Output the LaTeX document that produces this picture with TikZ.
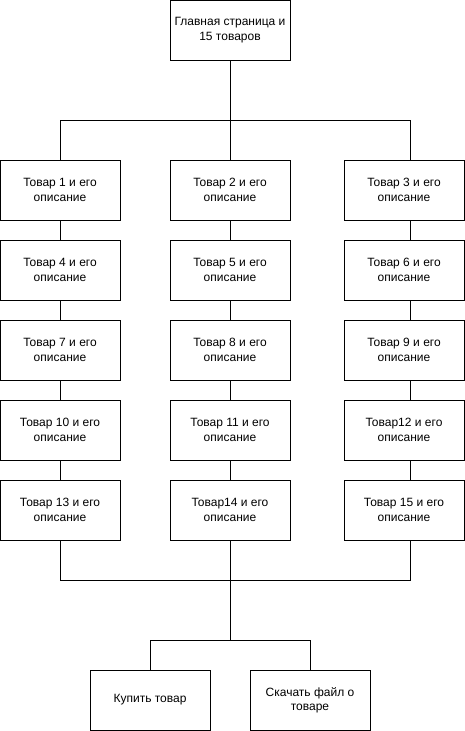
\documentclass[tikz,border=0pt]{standalone}
\usepackage{fontspec}
\setmainfont{Liberation Sans}
\usepackage{tikz}
\tikzset{x=1pt, y=-1pt}
\tikzset{page/.style = {shape=rectangle, draw, line width=1pt, minimum width=120pt, minimum height=60pt, align=center, font=\fontsize{12}{14.4}\selectfont, inner sep=0pt}}
\tikzset{edge/.style = {line width=1pt}}

\begin{document}
\begin{tikzpicture}
        \useasboundingbox (0,0) rectangle (465,731);
        \node[page] (main) at (230,30) {Главная страница и\\15 товаров};
        \coordinate (split) at (230,120);
        \draw[edge] (main) to (split);
        % first row
        \node[page] (t1) at (60,190) {Товар 1 и его\\описание};
        \node[page] (t2) at (230,190) {Товар 2 и его\\описание};
        \node[page] (t3) at (404,190) {Товар 3 и его\\описание};
        \draw[edge] (split) -| (t1);
        \draw[edge] (split) to (t2);
        \draw[edge] (split) -| ([xshift=6pt]t3.north);
        % second row
        \node[page] (t4) at (60,270) {Товар 4 и его\\описание};
        \draw[edge] (t1) to (t4);
        \node[page] (t5) at (230,270) {Товар 5 и его\\описание};
        \draw[edge] (t2) to (t5);
        \node[page] (t6) at (404,270) {Товар 6 и его\\описание};
        \draw[edge] ([xshift=6pt]t3.south) to ([xshift=6pt]t6.north);
        % third row
        \node[page] (t7) at (60,350) {Товар 7 и его\\описание};
        \draw[edge] (t4) to (t7);
        \node[page] (t8) at (230,350) {Товар 8 и его\\описание};
        \draw[edge] (t5) to (t8);
        \node[page] (t9) at (404,350) {Товар 9 и его\\описание};
        \draw[edge] ([xshift=6pt]t6.south) to ([xshift=6pt]t9.north);
        % fourth row
        \node[page] (t10) at (60,430) {Товар 10 и его\\описание};
        \draw[edge] (t7) to (t10);
        \node[page] (t11) at (230,430) {Товар 11 и его\\описание};
        \draw[edge] (t8) to (t11);
        \node[page] (t12) at (404,430) {Товар12 и его\\описание};
        \draw[edge] ([xshift=6pt]t9.south) to ([xshift=6pt]t12.north);
        % fifth row
        \node[page] (t13) at (60,510) {Товар 13 и его\\описание};
        \draw[edge] (t10) to (t13);
        \node[page] (t14) at (230,510) {Товар14 и его\\описание};
        \draw[edge] (t11) to (t14);
        \node[page] (t15) at (404,510) {Товар 15 и его\\описание};
        \draw[edge] ([xshift=6pt]t12.south) to ([xshift=6pt]t15.north);
        % joining the columns
        \coordinate (join) at (230,580);
        \draw[edge] (t13) |- (join);
        \draw[edge] (t14) to (join);
        \draw[edge] ([xshift=6pt]t15.south) |- (join);
        \coordinate (fork) at (230,640);
        \draw[edge] (join) to (fork);
        \node[page] (buy) at (150,700) {Купить товар};
        \draw[edge] (fork) -| (buy);
        \node[page] (file) at (310,700) {Скачать файл о\\товаре};
        \draw[edge] (fork) -| (file);
    \end{tikzpicture}
\end{document}
